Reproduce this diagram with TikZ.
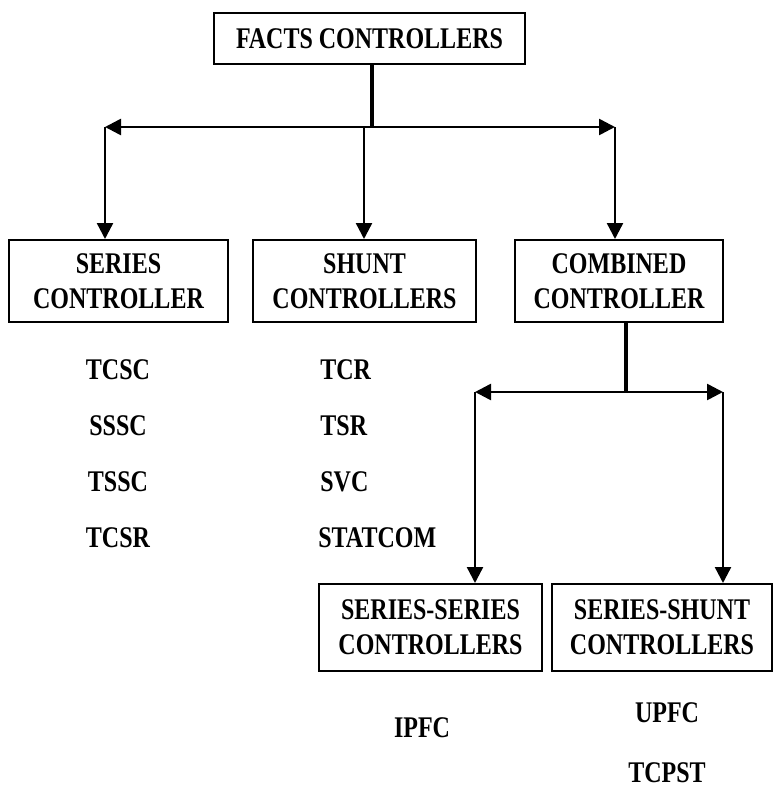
\documentclass[tikz,border=0pt]{standalone}
\usepackage{fontspec}
\setmainfont[FakeStretch=0.8]{Liberation Serif}
\usepackage{tikz}
\usetikzlibrary{arrows.meta}

\begin{document}
\begin{tikzpicture}[x=0.5pt, y=-0.5pt,
        box/.style = {draw, line width=1pt, inner sep=0pt, align=center,
                      font=\fontsize{15}{17.5}\selectfont\bfseries},
        item/.style = {font=\fontsize{15}{17.5}\selectfont\bfseries, inner sep=0pt},
        link/.style = {line width=1.2pt, -{Triangle[length=8pt, width=8pt]}},
        both/.style = {line width=1.3pt, {Triangle[length=8pt, width=8pt]}-{Triangle[length=8pt, width=8pt]}},
        trunk/.style = {line width=2.2pt}]
    \useasboundingbox (0,0) rectangle (774,787);

    \node[box, minimum width=155.5pt, minimum height=25.5pt] at (369.5, 38.5) (facts) {FACTS CONTROLLERS};

    \node[box, minimum width=109.5pt, minimum height=41pt] at (118.5, 281) (series) {SERIES\\CONTROLLER};
    \node[box, minimum width=111.5pt, minimum height=41pt] at (364.5, 281) (shunt) {SHUNT\\CONTROLLERS};
    \node[box, minimum width=104pt, minimum height=41pt] at (619, 281) (combined) {COMBINED\\CONTROLLER};

    \node[box, minimum width=111.5pt, minimum height=43.5pt] at (430.5, 627.5) (serser) {SERIES-SERIES\\CONTROLLERS};
    \node[box, minimum width=110pt, minimum height=43.5pt] at (662, 627.5) (sershunt) {SERIES-SHUNT\\CONTROLLERS};

    % devices under each group
    \node[item] at (118, 370) (tcsc) {TCSC};
    \node[item] at (118, 426) (sssc) {SSSC};
    \node[item] at (118, 482) (tssc) {TSSC};
    \node[item] at (118, 538) (tcsr) {TCSR};

    \node[item, anchor=west] at (320, 370) (tcr) {TCR};
    \node[item, anchor=west] at (320, 426) (tsr) {TSR};
    \node[item, anchor=west] at (320, 482) (svc) {SVC};
    \node[item, anchor=west] at (318, 538) (statcom) {STATCOM};

    \node[item] at (422, 728) (ipfc) {IPFC};
    \node[item] at (667, 713) (upfc) {UPFC};
    \node[item] at (667, 773) (tcpst) {TCPST};

    % first split
    \coordinate (split) at (372, 127);
    \coordinate (sl) at (105, 127);
    \coordinate (sm) at (364, 127);
    \coordinate (sr) at (615, 127);
    \draw[trunk] (split |- facts.south) -- (split);
    \draw[both] (sl) -- (sr);
    \draw[link] (sl) -- (sl |- series.north);
    \draw[link] (sm) -- (sm |- shunt.north);
    \draw[link] (sr) -- (sr |- combined.north);

    % second split
    \coordinate (csplit) at (626, 392);
    \coordinate (cl) at (475, 392);
    \coordinate (cr) at (723, 392);
    \draw[trunk] (csplit |- combined.south) -- (csplit);
    \draw[both] (cl) -- (cr);
    \draw[link] (cl) -- (cl |- serser.north);
    \draw[link] (cr) -- (cr |- sershunt.north);
\end{tikzpicture}
\end{document}
